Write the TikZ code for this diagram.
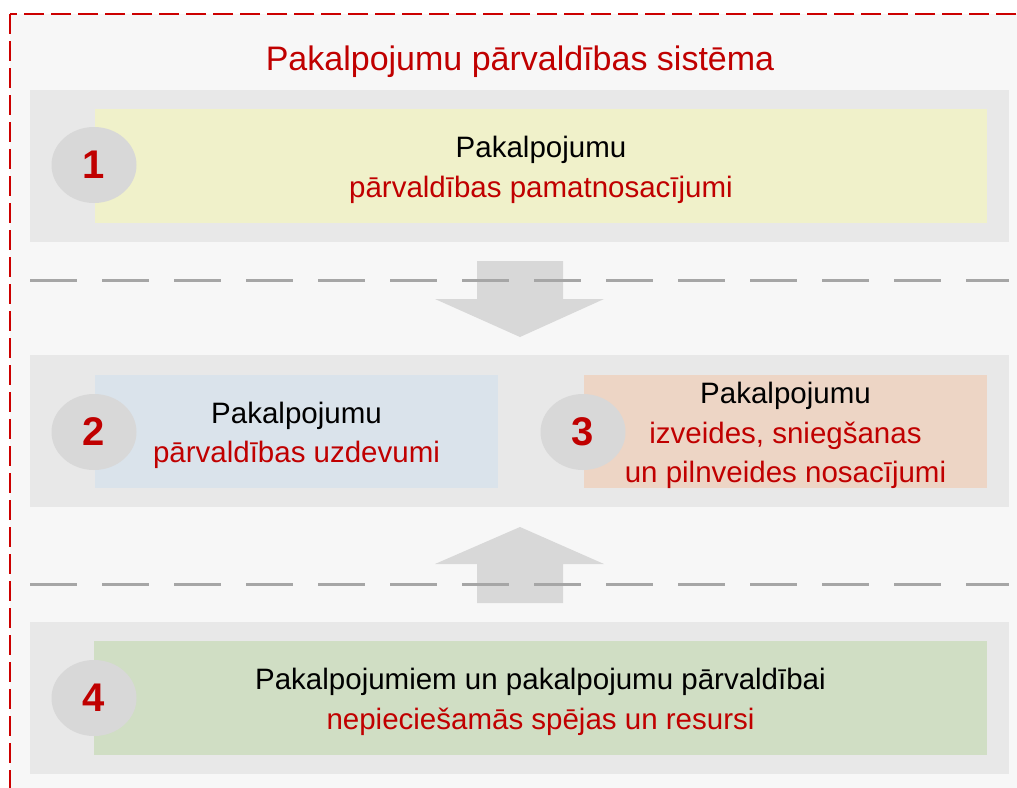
\documentclass[tikz,border=0pt]{standalone}
\usepackage{fontspec}
\setmainfont{Liberation Sans}
\usetikzlibrary{shapes.geometric}

\definecolor{pvred}{HTML}{C00000}
\definecolor{framered}{HTML}{CC0000}
\definecolor{bggray}{HTML}{F7F7F7}
\definecolor{bandgray}{HTML}{E8E8E8}
\definecolor{numgray}{HTML}{D8D8D8}
\definecolor{dashgray}{HTML}{A6A6A6}
\definecolor{boxyellow}{HTML}{F0F1CA}
\definecolor{boxblue}{HTML}{DAE3EB}
\definecolor{boxorange}{HTML}{EDD5C5}
\definecolor{boxgreen}{HTML}{D0DEC4}

\begin{document}
\begin{tikzpicture}[x=1pt,y=-1pt,
        band/.style={fill=bandgray,minimum width=979pt,minimum height=152pt,inner sep=0pt},
        box/.style={minimum height=114pt,inner sep=0pt},
        boxtext/.style={align=center,inner sep=0pt,yshift=-4pt,
            font=\fontsize{29.5}{39.5}\selectfont},
        num/.style={ellipse,fill=numgray,minimum width=85pt,minimum height=76pt,inner sep=0pt,
            text=pvred,font=\fontsize{40}{40}\selectfont\bfseries},
        blockarrow/.style={fill=numgray},
        sep/.style={draw=dashgray,line width=3pt,dash pattern=on 47pt off 25pt}]

    \useasboundingbox (0,0) rectangle (1017,787);
    \clip (0,0) rectangle (1017,787);

    % frame
    \fill[bggray] (10,14) rectangle (1040,810);
    \draw[framered,line width=2pt,dash pattern=on 20pt off 7pt] (10,14) rectangle (1040,810);
    \node[text=pvred,font=\fontsize{34}{40}\selectfont] (title) at (520,62) {Pakalpojumu pārvaldības sistēma};

    % bands
    \node[band] (band1) at (519.5,165.5) {};
    \node[band] (band2) at (519.5,431) {};
    \node[band] (band4) at (519.5,698) {};

    % boxes
    \node[box,fill=boxyellow,minimum width=892pt] (base) at (541,166) {};
    \node[box,fill=boxblue,minimum width=403pt,minimum height=113pt] (tasks) at (296.5,431.5) {};
    \node[box,fill=boxorange,minimum width=403pt,minimum height=113pt] (cond) at (785.5,431.5) {};
    \node[box,fill=boxgreen,minimum width=893pt] (res) at (540.5,698) {};

    \node[boxtext] (base-text) at (base.center)
        {Pakalpojumu\\\textcolor{pvred}{pārvaldības pamatnosacījumi}};
    \node[boxtext] (tasks-text) at (tasks.center)
        {Pakalpojumu\\\textcolor{pvred}{pārvaldības uzdevumi}};
    \node[boxtext] (cond-text) at (cond.center)
        {Pakalpojumu\\\textcolor{pvred}{izveides, sniegšanas}\\\textcolor{pvred}{un pilnveides nosacījumi}};
    \node[boxtext] (res-text) at (res.center)
        {Pakalpojumiem un pakalpojumu pārvaldībai\\\textcolor{pvred}{nepieciešamās spējas un resursi}};

    % numbers
    \node[num] (n1) at (94,165) {1};
    \node[num] (n2) at (94,432) {2};
    \node[num] (n3) at (583,432) {3};
    \node[num] (n4) at (94,698) {4};

    % arrows
    \fill[blockarrow] (477,261) -- (563,261) -- (563,299) -- (604,299) -- (520,337)
        -- (435,299) -- (477,299) -- cycle;
    \fill[blockarrow] (477,603) -- (563,603) -- (563,564) -- (604,564) -- (520,527)
        -- (435,564) -- (477,564) -- cycle;

    % separators
    \draw[sep] (30,280) -- (1009,280);
    \draw[sep] (30,584) -- (1009,584);
\end{tikzpicture}
\end{document}
